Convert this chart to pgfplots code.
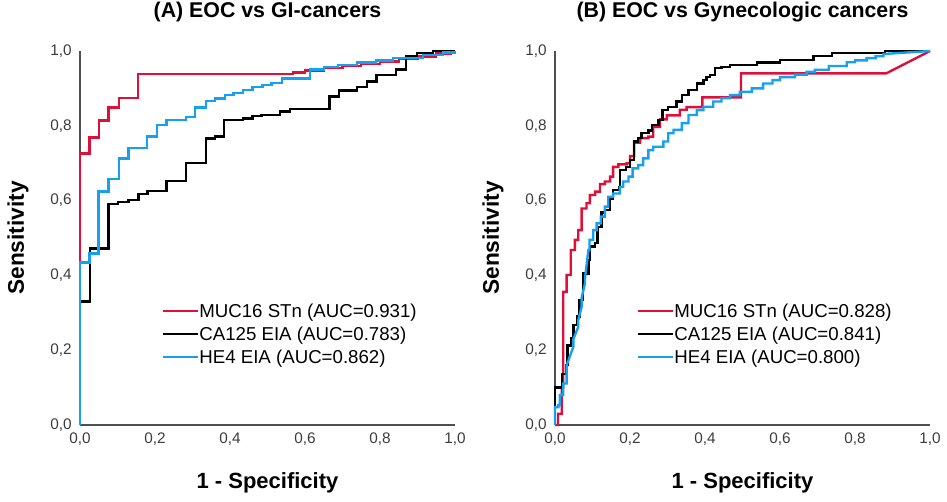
\documentclass[border=0pt]{standalone}
\usepackage{fontspec}
\setmainfont{Liberation Sans}
\usepackage{pgfplots}
\pgfplotsset{compat=1.18}
\definecolor{rocred}{RGB}{222,16,58}
\definecolor{rocblue}{RGB}{22,160,240}
\definecolor{axgray}{RGB}{80,80,80}
\definecolor{tickgray}{RGB}{60,60,60}
\pgfplotsset{
  rocaxis/.style={
    anchor=south west, scale only axis,
    width=281.25pt, height=280.5pt,
    xmin=0, xmax=1, ymin=0, ymax=1,
    axis lines=left,
    axis line style={draw=axgray, line width=0.8pt, -},
    major tick length=0pt,
    xtick={0,0.2,0.4,0.6,0.8,1}, ytick={0,0.2,0.4,0.6,0.8,1},
    /pgf/number format/.cd, use comma, fixed, fixed zerofill, precision=1, assume math mode=true,
    /pgfplots/.cd,
    xticklabel style={inner sep=0pt, yshift=-6pt, font=\fontsize{11.5}{13}\selectfont, text=tickgray},
    yticklabel style={inner sep=0pt, xshift=-6pt, font=\fontsize{11.5}{13}\selectfont, text=tickgray},
    clip=false,
    title style={at={(axis description cs:0.5,1)}, anchor=base, yshift=19.5pt, font=\bfseries\fontsize{16}{19}\selectfont},
    xlabel={1 - Specificity},
    ylabel={Sensitivity},
    xlabel style={at={(axis description cs:0.5,0)}, anchor=base, yshift=-47.5pt, font=\bfseries\fontsize{16.5}{19}\selectfont},
    ylabel style={at={(axis description cs:-0.15,0.5)}, anchor=base, rotate=0, font=\bfseries\fontsize{17}{19}\selectfont},
    legend style={draw=none, fill=none, at={(0.218,0.335)}, anchor=north west,
      font=\fontsize{14}{16}\selectfont, row sep=0pt, inner sep=0pt,
      nodes={inner sep=0.5pt, text height=12.5pt, text depth=3.75pt}},
    legend cell align=left,
    legend image code/.code={\draw[##1, line width=1.5pt] (0pt,0pt) -- (26pt,0pt);},
    every axis plot/.append style={line width=1.8pt},
  }
}
\begin{document}
\begin{tikzpicture}
\path[use as bounding box] (0,0) rectangle (710.25pt,375.75pt);
\begin{axis}[rocaxis, at={(60pt,57pt)}, title={(A) EOC vs GI-cancers}]
\addplot[rocred] coordinates {
(0,0)(0,0.726)(0.025,0.726)(0.025,0.769)(0.051,0.769)(0.051,0.814)(0.076,0.814)(0.076,0.849)(0.104,0.849)(0.104,0.874)(0.155,0.874)(0.155,0.938)(0.568,0.938)(0.568,0.942)(0.6,0.942)(0.6,0.948)(0.65,0.948)(0.65,0.955)(0.7,0.955)(0.7,0.96)(0.75,0.96)(0.75,0.966)(0.8,0.966)(0.8,0.972)(0.85,0.972)(0.85,0.978)(0.9,0.978)(0.9,0.985)(0.95,0.985)(0.95,0.993)(0.99,0.993)(0.99,1)(1,1)};
\addlegendentry{MUC16 STn (AUC=0.931)}
\addplot[black] coordinates {
(0,0)(0,0.33)(0.027,0.33)(0.027,0.472)(0.076,0.472)(0.076,0.591)(0.102,0.591)(0.102,0.597)(0.129,0.597)(0.129,0.602)(0.156,0.602)(0.156,0.617)(0.18,0.617)(0.18,0.626)(0.231,0.626)(0.231,0.652)(0.283,0.652)(0.283,0.701)(0.336,0.701)(0.336,0.766)(0.36,0.766)(0.36,0.771)(0.384,0.771)(0.384,0.816)(0.435,0.816)(0.435,0.82)(0.46,0.82)(0.46,0.826)(0.484,0.826)(0.484,0.829)(0.533,0.829)(0.533,0.838)(0.56,0.838)(0.56,0.845)(0.665,0.845)(0.665,0.878)(0.691,0.878)(0.691,0.894)(0.738,0.894)(0.738,0.903)(0.765,0.903)(0.765,0.918)(0.791,0.918)(0.791,0.936)(0.843,0.936)(0.843,0.951)(0.869,0.951)(0.869,0.987)(0.898,0.987)(0.898,0.994)(0.942,0.994)(0.942,1)(1,1)};
\addlegendentry{CA125 EIA (AUC=0.783)}
\addplot[rocblue] coordinates {
(0,0)(0,0.434)(0.025,0.434)(0.025,0.459)(0.049,0.459)(0.049,0.624)(0.076,0.624)(0.076,0.657)(0.104,0.657)(0.104,0.713)(0.129,0.713)(0.129,0.74)(0.178,0.74)(0.178,0.771)(0.206,0.771)(0.206,0.802)(0.231,0.802)(0.231,0.816)(0.283,0.816)(0.283,0.823)(0.307,0.823)(0.307,0.849)(0.336,0.849)(0.336,0.867)(0.36,0.867)(0.36,0.873)(0.387,0.873)(0.387,0.882)(0.409,0.882)(0.409,0.888)(0.435,0.888)(0.435,0.896)(0.46,0.896)(0.46,0.903)(0.487,0.903)(0.487,0.909)(0.511,0.909)(0.511,0.915)(0.538,0.915)(0.538,0.927)(0.613,0.927)(0.613,0.951)(0.65,0.951)(0.65,0.957)(0.688,0.957)(0.688,0.963)(0.738,0.963)(0.738,0.969)(0.79,0.969)(0.79,0.975)(0.835,0.975)(0.835,0.981)(0.915,0.981)(0.915,0.99)(0.968,0.99)(0.968,0.996)(1,0.996)(1,1)};
\addlegendentry{HE4 EIA (AUC=0.862)}
\end{axis}
\begin{axis}[rocaxis, at={(416.25pt,57pt)}, title={(B) EOC vs Gynecologic cancers}]
\addplot[rocred] coordinates {
(0,0)(0.008,0)(0.008,0.03)(0.018,0.03)(0.018,0.1)(0.022,0.1)(0.022,0.356)(0.031,0.356)(0.031,0.401)(0.042,0.401)(0.042,0.468)(0.053,0.468)(0.053,0.495)(0.062,0.495)(0.062,0.521)(0.071,0.521)(0.071,0.579)(0.084,0.579)(0.084,0.593)(0.093,0.593)(0.093,0.615)(0.107,0.615)(0.107,0.624)(0.12,0.624)(0.12,0.644)(0.133,0.644)(0.133,0.651)(0.147,0.651)(0.147,0.664)(0.155,0.664)(0.155,0.69)(0.169,0.69)(0.169,0.697)(0.191,0.697)(0.191,0.7)(0.2,0.7)(0.2,0.719)(0.211,0.719)(0.211,0.755)(0.227,0.755)(0.227,0.767)(0.249,0.767)(0.249,0.771)(0.262,0.771)(0.262,0.797)(0.28,0.797)(0.28,0.817)(0.298,0.817)(0.298,0.828)(0.333,0.828)(0.333,0.843)(0.351,0.843)(0.351,0.85)(0.393,0.85)(0.393,0.876)(0.496,0.876)(0.496,0.94)(0.883,0.94)(1,1)};
\addlegendentry{MUC16 STn (AUC=0.828)}
\addplot[black] coordinates {
(0,0)(0,0.1)(0.018,0.1)(0.018,0.137)(0.029,0.137)(0.029,0.16)(0.033,0.16)(0.033,0.213)(0.042,0.213)(0.042,0.232)(0.049,0.232)(0.049,0.267)(0.058,0.267)(0.058,0.29)(0.065,0.29)(0.065,0.334)(0.074,0.334)(0.074,0.405)(0.089,0.405)(0.089,0.441)(0.093,0.441)(0.093,0.477)(0.107,0.477)(0.107,0.486)(0.113,0.486)(0.113,0.53)(0.124,0.53)(0.124,0.568)(0.133,0.568)(0.133,0.575)(0.147,0.575)(0.147,0.606)(0.155,0.606)(0.155,0.628)(0.171,0.628)(0.171,0.637)(0.173,0.637)(0.173,0.682)(0.189,0.682)(0.189,0.69)(0.2,0.69)(0.2,0.709)(0.211,0.709)(0.211,0.758)(0.222,0.758)(0.222,0.767)(0.231,0.767)(0.231,0.78)(0.249,0.78)(0.249,0.787)(0.258,0.787)(0.258,0.802)(0.276,0.802)(0.276,0.816)(0.287,0.816)(0.287,0.842)(0.302,0.842)(0.302,0.85)(0.324,0.85)(0.324,0.865)(0.338,0.865)(0.338,0.882)(0.356,0.882)(0.356,0.896)(0.378,0.896)(0.378,0.913)(0.396,0.913)(0.396,0.922)(0.404,0.922)(0.404,0.93)(0.413,0.93)(0.413,0.936)(0.427,0.936)(0.427,0.954)(0.444,0.954)(0.444,0.958)(0.467,0.958)(0.467,0.963)(0.538,0.963)(0.538,0.969)(0.6,0.969)(0.6,0.976)(0.689,0.976)(0.689,0.986)(0.738,0.986)(0.738,0.994)(0.821,0.994)(0.821,0.995)(0.88,0.995)(0.88,1)(1,1)};
\addlegendentry{CA125 EIA (AUC=0.841)}
\addplot[rocblue] coordinates {
(0,0)(0,0.048)(0.009,0.048)(0.009,0.053)(0.013,0.053)(0.013,0.08)(0.022,0.08)(0.022,0.111)(0.031,0.111)(0.031,0.16)(0.049,0.209)(0.049,0.23)(0.062,0.262)(0.062,0.28)(0.071,0.316)(0.071,0.34)(0.08,0.379)(0.08,0.392)(0.089,0.468)(0.092,0.468)(0.092,0.495)(0.102,0.495)(0.102,0.521)(0.111,0.521)(0.111,0.539)(0.122,0.539)(0.122,0.557)(0.133,0.557)(0.133,0.584)(0.142,0.584)(0.142,0.61)(0.155,0.61)(0.155,0.619)(0.173,0.619)(0.173,0.637)(0.182,0.637)(0.182,0.651)(0.196,0.651)(0.196,0.664)(0.207,0.664)(0.207,0.686)(0.222,0.686)(0.222,0.695)(0.235,0.695)(0.235,0.713)(0.249,0.713)(0.249,0.735)(0.262,0.735)(0.262,0.744)(0.289,0.744)(0.289,0.758)(0.302,0.758)(0.302,0.78)(0.316,0.78)(0.316,0.789)(0.338,0.789)(0.338,0.807)(0.356,0.807)(0.356,0.829)(0.378,0.829)(0.378,0.842)(0.396,0.842)(0.396,0.851)(0.422,0.851)(0.422,0.865)(0.444,0.865)(0.444,0.874)(0.467,0.874)(0.467,0.882)(0.493,0.882)(0.493,0.891)(0.525,0.891)(0.525,0.9)(0.555,0.9)(0.555,0.913)(0.58,0.913)(0.58,0.922)(0.6,0.922)(0.6,0.93)(0.64,0.93)(0.64,0.937)(0.671,0.937)(0.671,0.944)(0.693,0.944)(0.693,0.95)(0.73,0.95)(0.73,0.96)(0.778,0.96)(0.778,0.97)(0.8,0.97)(0.8,0.975)(0.831,0.975)(0.831,0.981)(0.855,0.981)(0.855,0.986)(0.876,0.986)(0.876,0.992)(1,1)};
\addlegendentry{HE4 EIA (AUC=0.800)}
\end{axis}
\end{tikzpicture}
\end{document}
